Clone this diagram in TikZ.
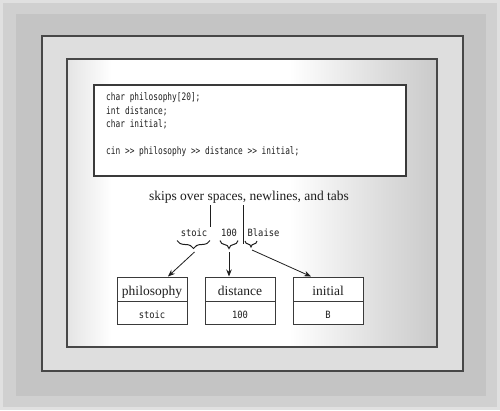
\documentclass[tikz,border=0pt]{standalone}
\usepackage{fontspec}
\setmainfont{Liberation Serif}
\newfontfamily\codefont[FakeStretch=0.76]{DejaVu Sans Mono}
\newfontfamily\labfont[FakeStretch=0.88]{DejaVu Sans Mono}
\usetikzlibrary{decorations.pathreplacing,arrows.meta,calc}
\definecolor{edgegray}{HTML}{E0E0E0}
\definecolor{bandA}{HTML}{D0D0D0}
\definecolor{bandB}{HTML}{C4C4C4}
\definecolor{midband}{HTML}{DEDEDE}
\definecolor{framegray}{HTML}{474747}
\definecolor{codegray}{HTML}{3A3A3A}
\definecolor{innerL}{HTML}{E4E4E4}
\definecolor{innerM}{HTML}{DDDDDD}
\definecolor{innerR}{HTML}{CACACA}
\definecolor{inkgray}{HTML}{1E1E1E}
\pgfdeclarehorizontalshading{innershade}{100bp}{color(0bp)=(innerL); color(25bp)=(innerL); color(31bp)=(white); color(55bp)=(white); color(67.5bp)=(innerM); color(75bp)=(innerR); color(100bp)=(innerR)}
\begin{document}
\begin{tikzpicture}[x=1pt,y=-1pt,
  frame/.style={draw=framegray,line width=1.6pt},
  codebox/.style={draw=codegray,line width=1.3pt,fill=white},
  codeline/.style={anchor=base west,inner sep=0pt,font=\codefont\fontsize{10.3}{12}\selectfont,text=inkgray},
  lab/.style={anchor=base,inner sep=0pt,font=\labfont\fontsize{10}{12}\selectfont,text=inkgray},
  hdr/.style={draw=codegray,line width=1pt,fill=white,minimum width=70pt,minimum height=24pt,inner sep=0pt,text height=12pt,text depth=0pt,font=\fontsize{13.5}{16}\selectfont,text=inkgray},
  val/.style={draw=codegray,line width=1pt,fill=white,minimum width=70pt,minimum height=23pt,inner sep=0pt,text height=11.5pt,text depth=0pt,font=\labfont\fontsize{10}{12}\selectfont,text=inkgray},
  brc/.style={decorate,decoration={brace,amplitude=#1},line width=1pt,draw=inkgray},
  arr/.style={-{Stealth[length=7pt,width=5.5pt]},line width=0.8pt,draw=inkgray},
  tick/.style={line width=1pt,draw=inkgray}
]
\useasboundingbox (0,0) rectangle (500,410);
% background
\fill[edgegray] (0,0) rectangle (500,410);
\fill[bandA] (3,3) rectangle (497,407);
\fill[bandB] (16,14) rectangle (486,396);
\fill[frame,fill=midband] (42,36) rectangle (463,371);
\shade[shading=innershade] (67,59) rectangle (437,347);
\draw[frame] (67,59) rectangle (437,347);
% code box
\draw[codebox] (94,85) rectangle (406,176);
\node[codeline] (c1) at (106,100.5) {char philosophy[20];};
\node[codeline] (c2) at (106,114) {int distance;};
\node[codeline] (c3) at (106,127.7) {char initial;};
\node[codeline] (c4) at (106,154) {cin >> philosophy >> distance >> initial;};
% caption
\node[anchor=base,inner sep=0pt,font=\fontsize{13.5}{16}\selectfont,text=inkgray] (skips) at (249,200.5) {skips over spaces, newlines, and tabs};
\coordinate (v1a) at (210.5,205);
\coordinate (v1b) at (210.5,227);
\coordinate (v2a) at (243.5,205);
\coordinate (v2b) at (243.5,244);
\draw[tick] (v1a) -- (v1b);
\draw[tick] (v2a) -- (v2b);
% input tokens
\node[lab] (tstoic) at (194,236.5) {stoic};
\node[lab] (t100) at (229,236.5) {100};
\node[lab] (tblaise) at (263.5,236.5) {Blaise};
\coordinate (b1r) at (210,240.5);
\coordinate (b1l) at (177,240.5);
\coordinate (b2r) at (238,240.5);
\coordinate (b2l) at (220,240.5);
\coordinate (b3r) at (257,241);
\coordinate (b3l) at (245,241);
\draw[brc=8pt] (b1r) -- (b1l);
\draw[brc=8pt] (b2r) -- (b2l);
\draw[brc=6pt] (b3r) -- (b3l);
\coordinate (tip1) at (194.5,252);
\coordinate (tip2) at (229,252);
\coordinate (tip3) at (252,250);
% variable boxes
\node[hdr] (phH) at (152,289) {philosophy};
\node[val] (phV) at (152,312.5) {stoic};
\node[hdr] (diH) at (240,289) {distance};
\node[val] (diV) at (240,312.5) {100};
\node[hdr] (inH) at (328,289) {initial};
\node[val] (inV) at (328,312.5) {B};
\coordinate (e1) at ($(phH.north)+(16,0)$);
\coordinate (e2) at ($(diH.north)+(-11,0)$);
\coordinate (e3) at ($(inH.north)+(-17,0)$);
\draw[arr] (tip1) -- (e1);
\draw[arr] (tip2) -- (e2);
\draw[arr] (tip3) -- (e3);
\end{tikzpicture}
\end{document}
